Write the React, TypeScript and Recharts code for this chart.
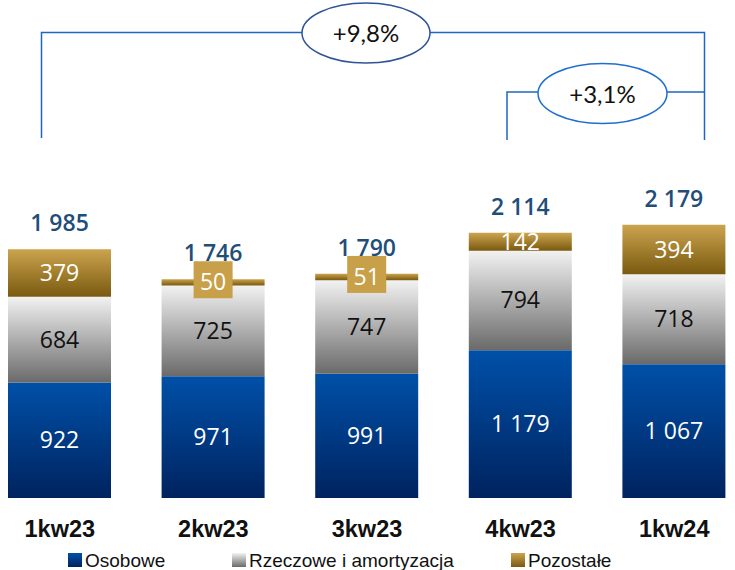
import { BarChart, Bar, XAxis, YAxis, LabelList } from 'recharts';

const quarters = ['1kw23', '2kw23', '3kw23', '4kw23', '1kw24'];
const osobowe = [922, 971, 991, 1179, 1067];
const rzeczowe = [684, 725, 747, 794, 718];
const pozostale = [379, 50, 51, 142, 394];
const totals = [1985, 1746, 1790, 2114, 2179];
const rightTicks = [30, 1780];

const data = quarters.map((q, i) => ({
  q,
  osobowe: osobowe[i],
  rzeczowe: rzeczowe[i],
  pozostale: pozostale[i],
  total: totals[i],
}));

const series = [
  { key: 'osobowe', name: 'Osobowe', grad: 'gBlue', text: '#ffffff', top: '#0050a8', bottom: '#00235f' },
  { key: 'rzeczowe', name: 'Rzeczowe i amortyzacja', grad: 'gGray', text: '#111111', top: '#f2f2f2', bottom: '#6a6a6a' },
  { key: 'pozostale', name: 'Pozostałe', grad: 'gGold', text: '#ffffff', top: '#cba44e', bottom: '#7a5a10' },
];

// legend item left edges
const legendX = [68, 232, 511];

const fmt = (v: number) => String(v).replace(/\B(?=(\d{3})+(?!\d))/g, ' ');

const numFont = '"Open Sans", sans-serif';
const sansFont = '"Liberation Sans", Arial, sans-serif';

const SegmentLabel = (props: any) => {
  const { x, y, width, height, value, textColor } = props;
  const cx = x + width / 2;
  const cy = y + height / 2;
  if (height < 12) {
    return (
      <g>
        <rect x={cx - 19.5} y={cy - 21} width={39} height={37} fill="#c8a049" />
        <text x={cx} y={cy + 8} textAnchor="middle" fill="#fff" fontSize={23} fontFamily={numFont}>
          {fmt(value)}
        </text>
      </g>
    );
  }
  return (
    <text x={cx} y={cy + 8} textAnchor="middle" fill={textColor} fontSize={23} fontFamily={numFont}>
      {fmt(value)}
    </text>
  );
};

const TotalLabel = (props: any) => {
  const { x, y, width, index } = props;
  return (
    <text x={x + width / 2} y={y - 18} textAnchor="middle" fill="#1f4e79" fontSize={23} fontWeight={600} fontFamily={numFont}>
      {fmt(totals[index])}
    </text>
  );
};

const QuarterTick = (props: any) => {
  const { x, y, payload } = props;
  return (
    <text x={x} y={y + 39} textAnchor="middle" fill="#111" fontSize={23.5} fontWeight="bold" fontFamily={sansFont}>
      {payload.value}
    </text>
  );
};

export default function App() {
  return (
    <div style={{ position: 'absolute', left: 0, top: 0, width: 735, height: 570, background: '#fff' }}>
      <BarChart width={735} height={570} data={data} margin={{ top: 147, right: 0, bottom: 42, left: 0 }}>
        <defs>
          {series.map((s) => (
            <linearGradient key={s.grad} id={s.grad} x1="0" y1="0" x2="0" y2="1">
              <stop offset="0%" stopColor={s.top} />
              <stop offset="100%" stopColor={s.bottom} />
            </linearGradient>
          ))}
        </defs>
        <XAxis
          dataKey="q"
          height={30}
          axisLine={false}
          tickLine={false}
          tickSize={0}
          tickMargin={0}
          padding={{ left: -17, right: -21 }}
          tick={<QuarterTick />}
          interval={0}
        />
        <YAxis
          orientation="right"
          width={5}
          domain={[0, 2800]}
          ticks={rightTicks}
          tick={false}
          tickSize={5}
          tickLine={{ stroke: '#222' }}
          axisLine={false}
        />
        {series.map((s) => (
          <Bar key={s.key} dataKey={s.key} stackId="a" barSize={103} fill={`url(#${s.grad})`} isAnimationActive={false}>
            <LabelList dataKey={s.key} content={<SegmentLabel textColor={s.text} />} />
            {s.key === 'pozostale' && <LabelList dataKey="total" content={<TotalLabel />} />}
          </Bar>
        ))}
      </BarChart>

      <svg width={735} height={570} style={{ position: 'absolute', left: 0, top: 0, pointerEvents: 'none' }}>
        <defs>
          {series.map((s) => (
            <linearGradient key={s.grad} id={`${s.grad}L`} x1="0" y1="0" x2="0" y2="1">
              <stop offset="0%" stopColor={s.top} />
              <stop offset="100%" stopColor={s.bottom} />
            </linearGradient>
          ))}
        </defs>
        <polyline points="41.5,138 41.5,32.5 704.5,32.5 704.5,140" fill="none" stroke="#1f66c0" strokeWidth={1.5} />
        <polyline points="507,140 507,92 704.5,92" fill="none" stroke="#1f66c0" strokeWidth={1.5} />
        <ellipse cx={366} cy={33} rx={64} ry={30} fill="#fff" stroke="#2f5597" strokeWidth={1.5} />
        <ellipse cx={602.5} cy={93.5} rx={64.5} ry={30} fill="#fff" stroke="#1f6fd0" strokeWidth={1.5} />
        <text x={366} y={42} textAnchor="middle" fontSize={24} fontFamily="Lato, sans-serif" fill="#111">+9,8%</text>
        <text x={602.5} y={102.5} textAnchor="middle" fontSize={24} fontFamily="Lato, sans-serif" fill="#111">+3,1%</text>

        {series.map((s, i) => (
          <g key={s.key}>
            <rect x={legendX[i]} y={553} width={14} height={14} fill={`url(#${s.grad}L)`} />
            <text x={legendX[i] + 17} y={567} fontSize={19} fontFamily={sansFont} fill="#111">
              {s.name}
            </text>
          </g>
        ))}
      </svg>
    </div>
  );
}
